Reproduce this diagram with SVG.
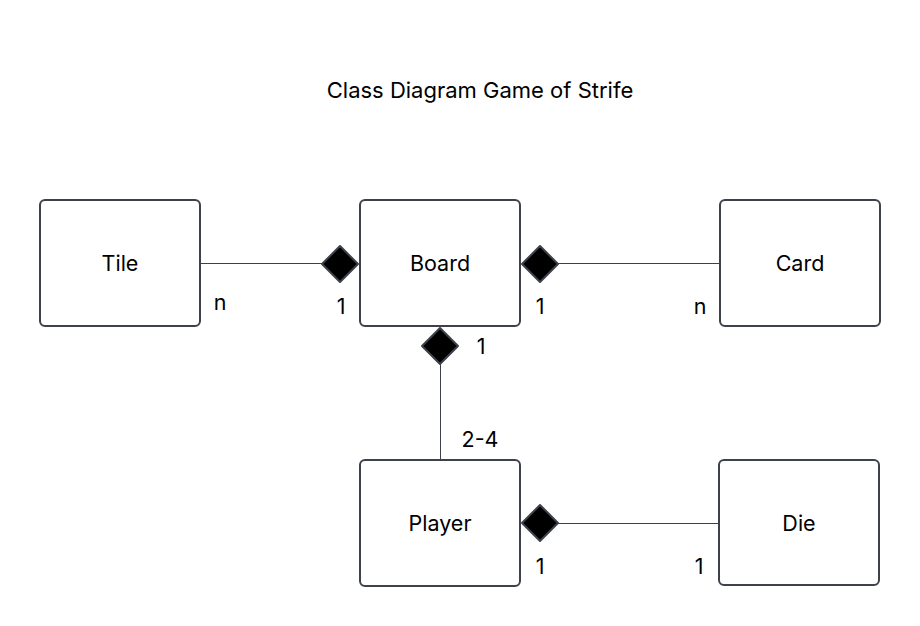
<svg xmlns="http://www.w3.org/2000/svg" width="920" height="626" viewBox="0 0 920 626">
<style>
.box{fill:#fff;stroke:#3d414a;stroke-width:2}
.lbl{font-family:Inter,"Liberation Sans",sans-serif;font-size:21.5px;fill:#000;text-anchor:middle}
.title{font-family:Inter,"Liberation Sans",sans-serif;font-size:22px;fill:#000;text-anchor:middle}
.mult{font-family:Inter,"Liberation Sans",sans-serif;font-size:21.5px;fill:#000;text-anchor:middle}
.edge{stroke:#3d414a;stroke-width:1;fill:none}
.dia{fill:#000;stroke:#3d414a;stroke-width:2;stroke-linejoin:round}
</style>
<rect width="920" height="626" fill="#fff"/>
<text class="title" x="480" y="98">Class Diagram Game of Strife</text>
<g id="connectors">
<path class="edge" d="M200,263.5H322"/>
<path class="dia" d="M322,264L340,246L358,264L340,282Z"/>
<path class="edge" d="M558,263.5H720"/>
<path class="dia" d="M522,264L540,246L558,264L540,282Z"/>
<path class="edge" d="M440.5,364V460"/>
<path class="dia" d="M440,328L458,346L440,364L422,346Z"/>
<path class="edge" d="M558,523.5H719"/>
<path class="dia" d="M522,523L540,505L558,523L540,541Z"/>
<text class="mult" x="220" y="310">n</text>
<text class="mult" x="341" y="314">1</text>
<text class="mult" x="540" y="314">1</text>
<text class="mult" x="700" y="314">n</text>
<text class="mult" x="481" y="354">1</text>
<text class="mult" x="480" y="447">2-4</text>
<text class="mult" x="540" y="574">1</text>
<text class="mult" x="699" y="574">1</text>
</g>
<g id="tile"><rect class="box" x="40" y="200" width="160" height="126" rx="5"/><text class="lbl" x="120" y="271">Tile</text></g>
<g id="board"><rect class="box" x="360" y="200" width="160" height="126" rx="5"/><text class="lbl" x="440" y="271">Board</text></g>
<g id="card"><rect class="box" x="720" y="200" width="160" height="126" rx="5"/><text class="lbl" x="800" y="271">Card</text></g>
<g id="player"><rect class="box" x="360" y="460" width="160" height="126" rx="5"/><text class="lbl" x="440" y="531">Player</text></g>
<g id="die"><rect class="box" x="719" y="460" width="160" height="125" rx="5"/><text class="lbl" x="799" y="531">Die</text></g>
</svg>
